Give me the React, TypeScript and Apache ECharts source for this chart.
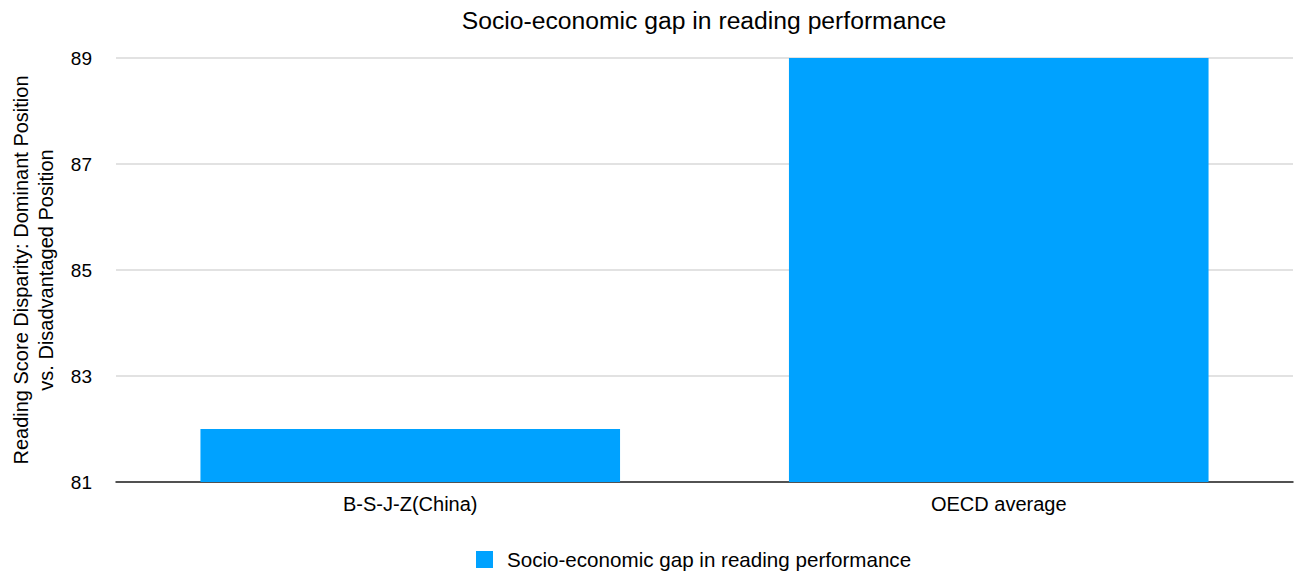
import React, { useEffect, useRef } from "react";
import * as echarts from "echarts";

const title = "Socio-economic gap in reading performance";
const categories = ["B-S-J-Z(China)", "OECD average"];
const seriesName = "Socio-economic gap in reading performance";
const values = [82, 89];
const yAxisName = "Reading Score Disparity: Dominant Position\nvs. Disadvantaged Position";
const yMin = 81;
const yMax = 89;
const yInterval = 2;

export default function App() {
  const ref = useRef<HTMLDivElement>(null);
  useEffect(() => {
    const chart = echarts.init(ref.current!, null, { renderer: "svg" });
    const font = "'Liberation Sans', Arial, Helvetica, sans-serif";
    chart.setOption({
      animation: false,
      textStyle: { fontFamily: font },
      title: {
        text: title,
        left: 699,
        textAlign: "center",
        top: 3,
        textStyle: { fontSize: 24.7, fontWeight: "normal", color: "#000", fontFamily: font },
      },
      grid: { left: 116, right: 1, top: 58, bottom: 93, containLabel: false, outerBoundsMode: "none" },
      legend: {
        data: [seriesName],
        bottom: 5,
        left: 476,
        padding: 0,
        itemWidth: 17,
        itemHeight: 17,
        itemGap: 10,
        icon: "rect",
        textStyle: { fontSize: 20.6, color: "#000", fontFamily: font, padding: [0, 0, 0, 9] },
      },
      xAxis: {
        type: "category",
        data: categories,
        axisTick: { show: false },
        axisLine: { lineStyle: { color: "#222", width: 1.5 } },
        axisLabel: { fontSize: 20, color: "#000", margin: 12, fontFamily: font },
      },
      yAxis: {
        type: "value",
        min: yMin,
        max: yMax,
        interval: yInterval,
        name: yAxisName,
        nameLocation: "middle",
        nameGap: 58,
        nameTextStyle: { fontSize: 20, color: "#000", lineHeight: 25, fontFamily: font },
        axisLine: { show: false },
        axisTick: { show: false },
        splitLine: { lineStyle: { color: "#d9d9d9", width: 1.5 } },
        axisLabel: { fontSize: 19, color: "#000", margin: 24, fontFamily: font },
      },
      series: [
        {
          name: seriesName,
          type: "bar",
          data: values,
          barCategoryGap: "28.7%",
          itemStyle: { color: "#00A2FF" },
        },
      ],
    });
    return () => chart.dispose();
  }, []);
  return (
    <div
      ref={ref}
      style={{ width: 1294, height: 575, position: "absolute", left: 0, top: 0 }}
    />
  );
}
